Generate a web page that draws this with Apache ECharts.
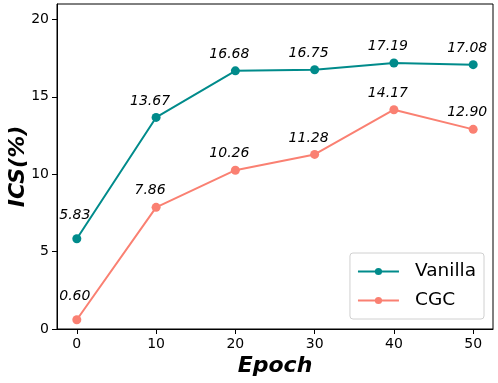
<!DOCTYPE html>
<html><head><meta charset="utf-8">
<script src="https://cdn.jsdelivr.net/npm/echarts@6/dist/echarts.min.js"></script>
<style>html,body{margin:0;padding:0;background:#fff}#c{width:498px;height:383px}</style>
</head><body><div id="c"></div>
<script>
const epochs = [0, 10, 20, 30, 40, 50];
const vanilla = [5.83, 13.67, 16.68, 16.75, 17.19, 17.08];
const cgc = [0.60, 7.86, 10.26, 11.28, 14.17, 12.90];
const xTicks = [0, 10, 20, 30, 40, 50];
const yTicks = [0, 5, 10, 15, 20];
const FONT = 'DejaVu Sans';

function mk(name, vals, color) {
  return {
    name: name, type: 'line',
    data: epochs.map((e, i) => i === 0
      ? {value: [e, vals[i]], label: {offset: [-2, -7]}}
      : [e, vals[i]]),
    symbol: 'circle', symbolSize: 9,
    lineStyle: {color: color, width: 2},
    itemStyle: {color: color},
    label: {show: true, position: 'top', distance: 5, offset: [-6, 0],
      formatter: p => p.value[1].toFixed(2),
      fontFamily: FONT, fontStyle: 'italic', fontSize: 14, color: '#000'}
  };
}
const chart = echarts.init(document.getElementById('c'), null, {renderer: 'canvas'});
chart.setOption({
  animation: false,
  grid: {left: 57, right: 5, top: 4, bottom: 54, containLabel: false, outerBoundsMode: 'none',
    show: true, borderColor: '#000', borderWidth: 1},
  xAxis: {type: 'value', min: -2.5, max: 52.5,
    name: 'Epoch', nameLocation: 'middle', nameGap: 26, nameMoveOverlap: false,
    nameTextStyle: {fontFamily: FONT, fontWeight: 'bold', fontStyle: 'italic', fontSize: 22, color: '#000'},
    axisLine: {show: true, onZero: false, lineStyle: {color: '#000'}},
    axisTick: {show: true, length: 5, customValues: xTicks, lineStyle: {color: '#000'}},
    axisLabel: {customValues: xTicks, fontFamily: FONT, fontSize: 14, color: '#000', margin: 8},
    splitLine: {show: false}},
  yAxis: {type: 'value', min: 0, max: 21,
    name: 'ICS(%)', nameLocation: 'middle', nameGap: 28, nameRotate: 90, nameMoveOverlap: false,
    nameTextStyle: {fontFamily: FONT, fontWeight: 'bold', fontStyle: 'italic', fontSize: 22, color: '#000'},
    axisLine: {show: true, onZero: false, lineStyle: {color: '#000'}},
    axisTick: {show: true, length: 5, customValues: yTicks, lineStyle: {color: '#000'}},
    axisLabel: {customValues: yTicks, fontFamily: FONT, fontSize: 14, color: '#000', margin: 8},
    splitLine: {show: false}},
  legend: {right: 14, bottom: 64, orient: 'vertical', itemWidth: 41, itemHeight: 9, itemGap: 10,
    padding: [9, 8, 9, 7], borderColor: '#d0d0d0', borderWidth: 1, borderRadius: 3,
    textStyle: {fontFamily: FONT, fontSize: 18.5, color: '#000', padding: [0, 0, 0, 11]}},
  series: [mk('Vanilla', vanilla, '#008b8b'), mk('CGC', cgc, '#fa8072')]
});
</script></body></html>
